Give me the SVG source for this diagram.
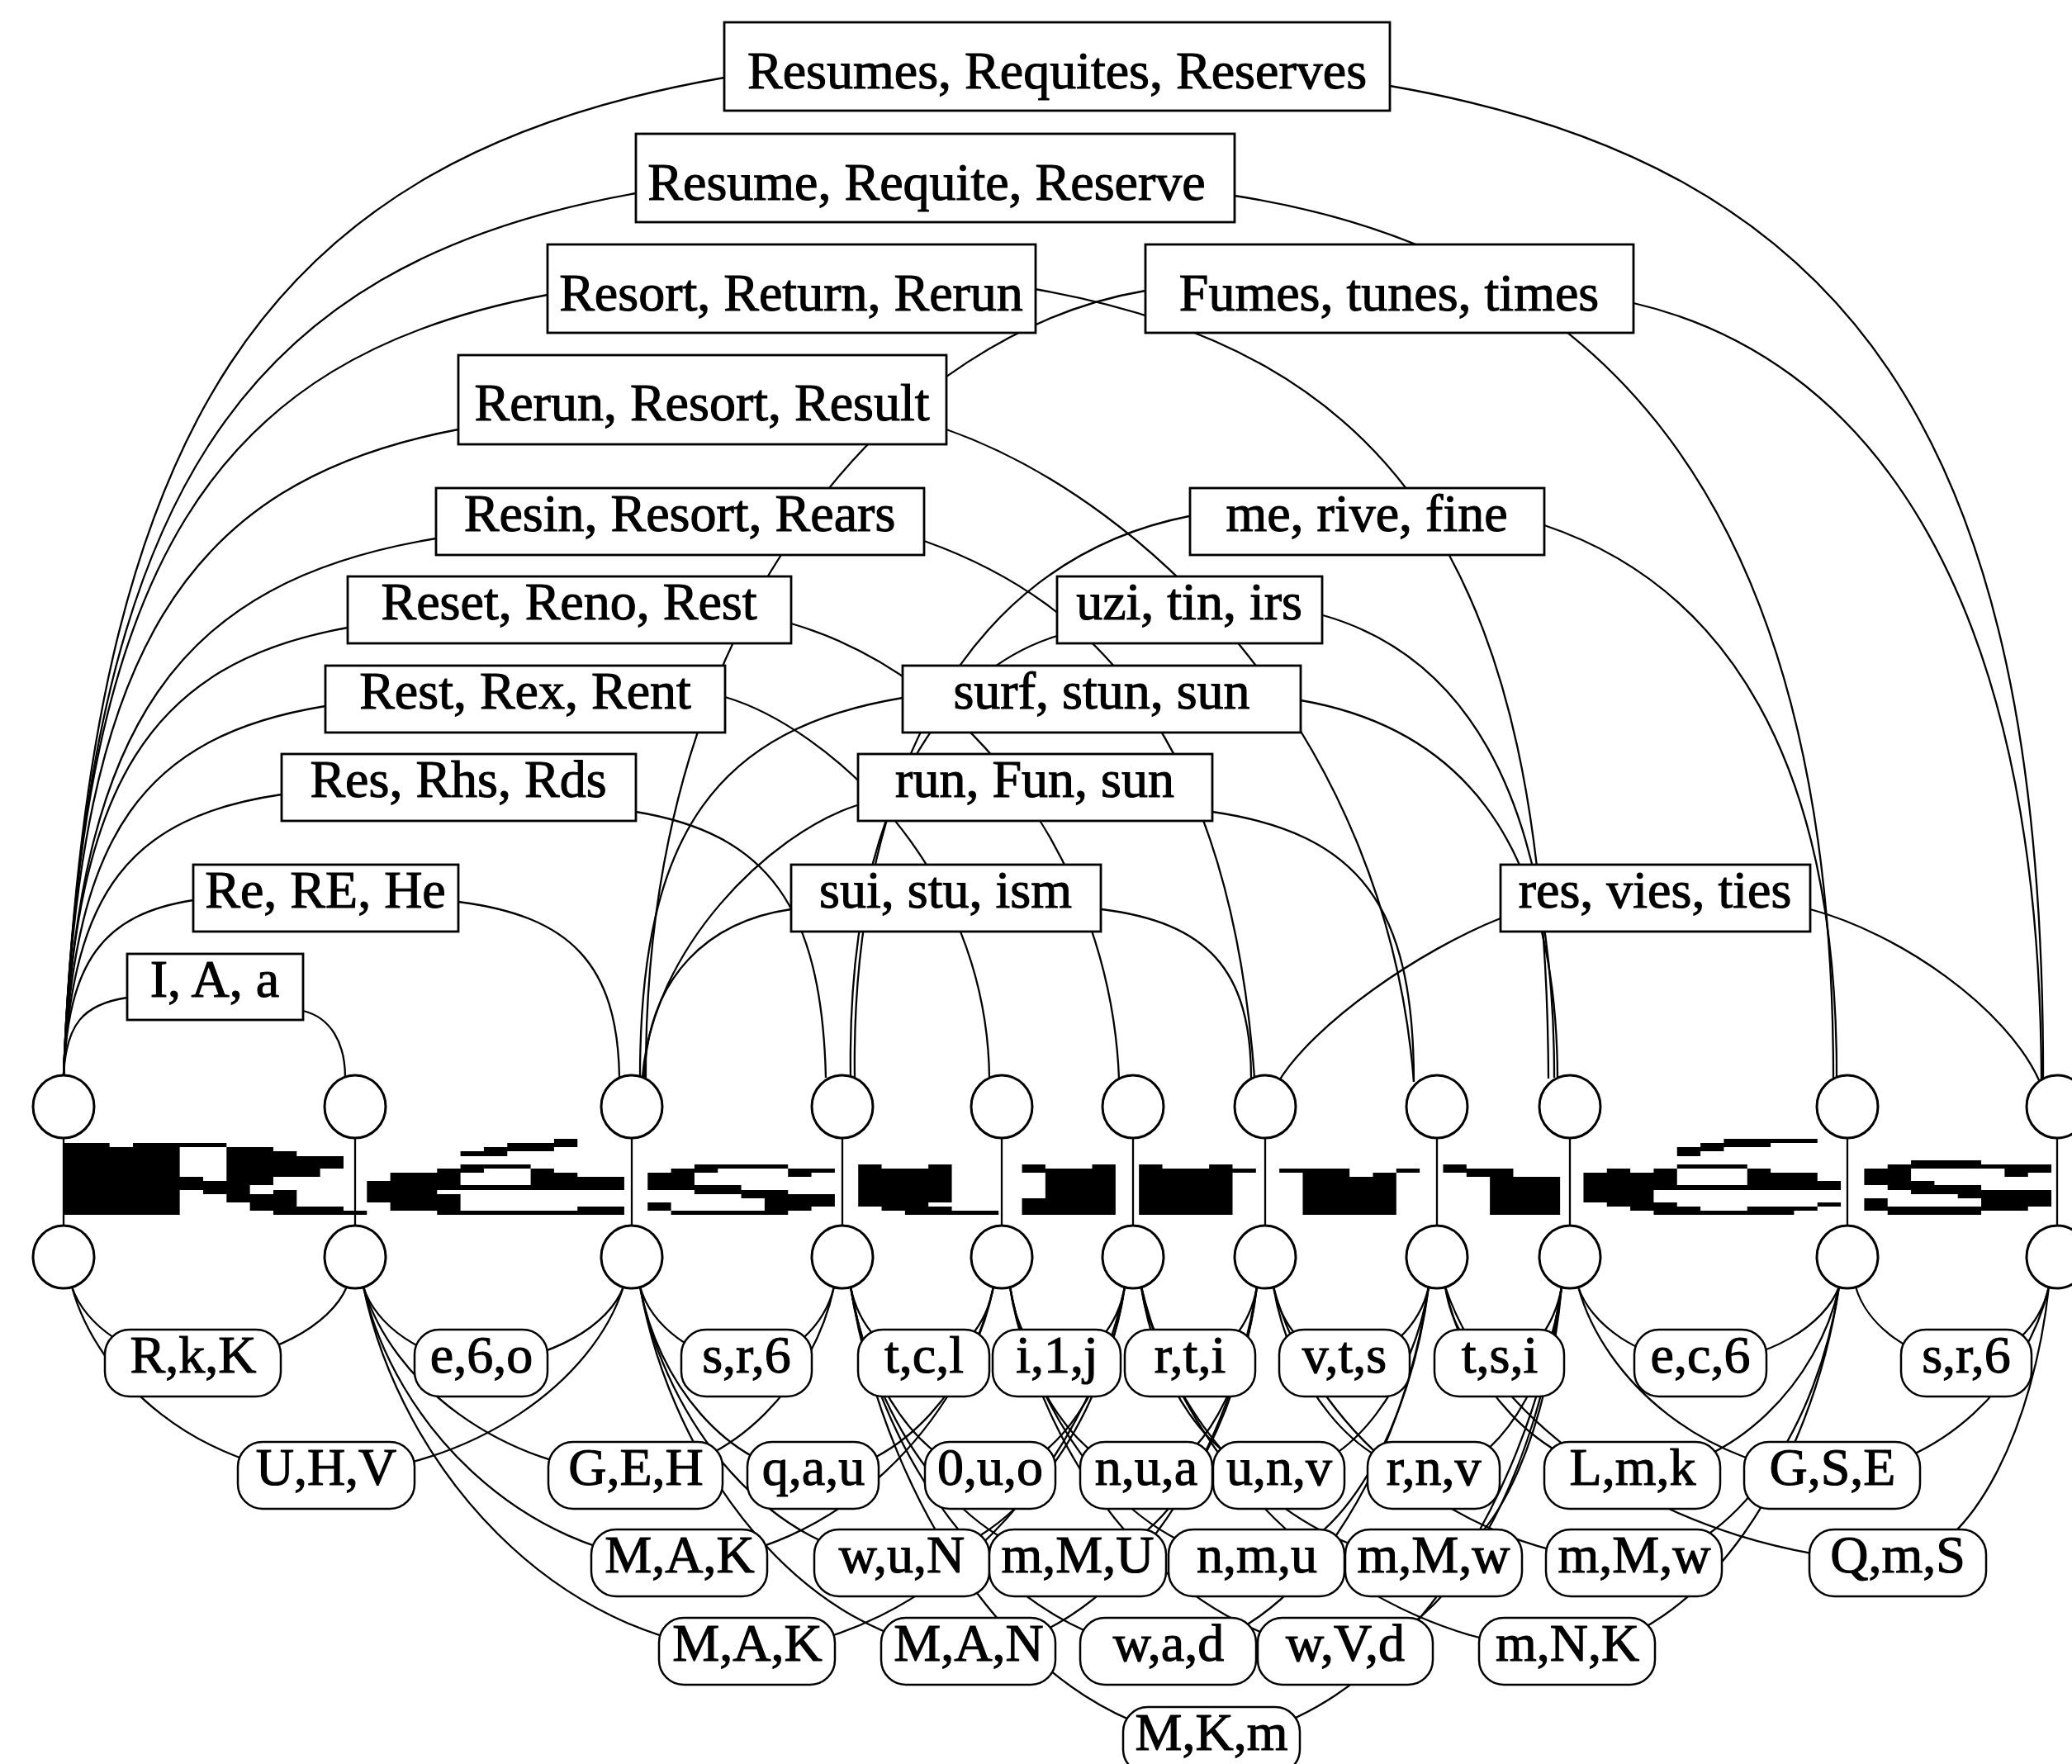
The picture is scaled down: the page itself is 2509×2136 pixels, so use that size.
<svg xmlns="http://www.w3.org/2000/svg" width="2509" height="2136" viewBox="0 0 2509 2136">
<style>
.e path{fill:none;stroke:#000;stroke-width:2.3}
.v{stroke:#000;stroke-width:2.3}
.tb{fill:#fff;stroke:#000;stroke-width:2.8}
.rb{fill:#fff;stroke:#000;stroke-width:2.5}
.c{fill:#fff;stroke:#000;stroke-width:3}
text{font-family:"Liberation Serif","Times New Roman",serif;font-size:64px;text-anchor:middle;fill:#000;stroke:#000;stroke-width:1.1px}
</style>
<rect width="2509" height="2136" fill="#fff"/>
<g id="connectors" class="e">
<path d="M877,94 C317,191 109,517 77,1302"/>
<path d="M770,234 C285,320 105,608 77,1302"/>
<path d="M663,357 C253,433 100,688 77,1302"/>
<path d="M555,520 C220,583 96,794 77,1302"/>
<path d="M528,652 C212,704 95,880 77,1302"/>
<path d="M421,760 C180,803 91,950 77,1302"/>
<path d="M394,855 C172,891 90,1012 77,1302"/>
<path d="M341,962 C156,989 88,1081 77,1302"/>
<path d="M234,1090 C124,1107 83,1165 77,1302"/>
<path d="M154,1208 C100,1216 80,1241 77,1302"/>
<path d="M367,1224 C400,1232 418,1262 418,1305"/>
<path d="M555,1092 C690,1109 748,1167 750,1305"/>
<path d="M770,983 C928,1009 995,1096 1000,1305"/>
<path d="M878,844 C1000,880 1195,1050 1198,1305"/>
<path d="M958,755 C1180,820 1345,1050 1355,1306"/>
<path d="M1119,655 C1330,730 1490,900 1519,1305"/>
<path d="M1146,520 C1400,610 1680,900 1712,1310"/>
<path d="M1253,350 C1686,426 1872,683 1875,1306"/>
<path d="M1495,237 C1900,300 2220,560 2220,1306"/>
<path d="M1683,104 C2238,200 2476,525 2474,1308"/>
<path d="M1387,352 C1100,400 780,720 782,1305"/>
<path d="M1978,367 C2250,430 2470,696 2472,1308"/>
<path d="M1440,625 C1160,680 1030,960 1035,1305"/>
<path d="M1280,770 C1150,810 1025,960 1030,1305"/>
<path d="M1602,745 C1760,790 1882,941 1882,1305"/>
<path d="M1093,845 C870,882 775,1006 775,1304"/>
<path d="M1575,848 C1760,880 1885,1008 1886,1305"/>
<path d="M1038,975 C930,1010 790,1150 778,1304"/>
<path d="M1468,983 C1646,1009 1712,1096 1712,1310"/>
<path d="M958,1101 C860,1115 785,1180 780,1304"/>
<path d="M1334,1101 C1461,1117 1515,1173 1515,1306"/>
<path d="M1817,1112 C1720,1150 1590,1240 1548,1310"/>
<path d="M2192,1101 C2300,1130 2430,1220 2470,1310"/>
<path d="M1870,636 C2090,710 2225,920 2224,1305"/>
<path d="M87,1558 C102,1604 160,1647 234,1650"/>
<path d="M420,1558 C401,1604 327,1647 234,1650"/>
<path d="M440,1558 C454,1604 511,1647 583,1650"/>
<path d="M755,1558 C738,1604 669,1647 583,1650"/>
<path d="M775,1558 C788,1604 840,1647 904,1650"/>
<path d="M1010,1558 C999,1604 957,1647 904,1650"/>
<path d="M1030,1558 C1039,1604 1074,1647 1119,1650"/>
<path d="M1203,1558 C1195,1604 1161,1647 1119,1650"/>
<path d="M1223,1558 C1229,1604 1251,1647 1280,1650"/>
<path d="M1362,1558 C1354,1604 1321,1647 1280,1650"/>
<path d="M1382,1558 C1388,1604 1412,1647 1441,1650"/>
<path d="M1522,1558 C1514,1604 1482,1647 1441,1650"/>
<path d="M1542,1558 C1551,1604 1585,1647 1628,1650"/>
<path d="M1730,1558 C1720,1604 1679,1647 1628,1650"/>
<path d="M1750,1558 C1757,1604 1783,1647 1816,1650"/>
<path d="M1891,1558 C1883,1604 1853,1647 1816,1650"/>
<path d="M1911,1558 C1926,1604 1985,1647 2059,1650"/>
<path d="M2227,1558 C2210,1604 2143,1647 2059,1650"/>
<path d="M2247,1558 C2260,1604 2314,1647 2381,1650"/>
<path d="M2481,1558 C2471,1604 2431,1647 2381,1650"/>
<path d="M87,1558 C118,1672 241,1779 395,1786"/>
<path d="M755,1558 C719,1672 575,1779 395,1786"/>
<path d="M440,1558 C473,1672 605,1779 770,1786"/>
<path d="M1010,1558 C986,1672 890,1779 770,1786"/>
<path d="M775,1558 C796,1672 880,1779 985,1786"/>
<path d="M1203,1558 C1181,1672 1094,1779 985,1786"/>
<path d="M1030,1558 C1047,1672 1115,1779 1199,1786"/>
<path d="M1362,1558 C1346,1672 1281,1779 1199,1786"/>
<path d="M1223,1558 C1240,1672 1306,1779 1388,1786"/>
<path d="M1522,1558 C1509,1672 1455,1779 1388,1786"/>
<path d="M1382,1558 C1399,1672 1465,1779 1549,1786"/>
<path d="M1730,1558 C1712,1672 1639,1779 1549,1786"/>
<path d="M1542,1558 C1561,1672 1639,1779 1736,1786"/>
<path d="M1891,1558 C1876,1672 1814,1779 1736,1786"/>
<path d="M1750,1558 C1773,1672 1863,1779 1977,1786"/>
<path d="M2227,1558 C2202,1672 2102,1779 1977,1786"/>
<path d="M1911,1558 C1942,1672 2065,1779 2219,1786"/>
<path d="M2481,1558 C2455,1672 2350,1779 2219,1786"/>
<path d="M440,1558 C478,1725 631,1882 823,1892"/>
<path d="M1203,1558 C1165,1725 1013,1882 823,1892"/>
<path d="M775,1558 C807,1725 934,1882 1092,1892"/>
<path d="M1362,1558 C1335,1725 1227,1882 1092,1892"/>
<path d="M1030,1558 C1058,1725 1168,1882 1305,1892"/>
<path d="M1522,1558 C1500,1725 1414,1882 1305,1892"/>
<path d="M1223,1558 C1253,1725 1372,1882 1522,1892"/>
<path d="M1730,1558 C1709,1725 1626,1882 1522,1892"/>
<path d="M1382,1558 C1417,1725 1559,1882 1736,1892"/>
<path d="M1891,1558 C1876,1725 1814,1882 1736,1892"/>
<path d="M1542,1558 C1586,1725 1760,1882 1979,1892"/>
<path d="M2227,1558 C2202,1725 2103,1882 1979,1892"/>
<path d="M1750,1558 C1805,1725 2024,1882 2298,1892"/>
<path d="M2481,1558 C2463,1725 2390,1882 2298,1892"/>
<path d="M440,1558 C486,1779 672,1987 905,2000"/>
<path d="M1362,1558 C1316,1779 1133,1987 905,2000"/>
<path d="M775,1558 C815,1779 974,1987 1173,2000"/>
<path d="M1522,1558 C1487,1779 1347,1987 1173,2000"/>
<path d="M1030,1558 C1068,1779 1222,1987 1415,2000"/>
<path d="M1730,1558 C1698,1779 1572,1987 1415,2000"/>
<path d="M1223,1558 C1264,1779 1426,1987 1629,2000"/>
<path d="M1891,1558 C1865,1779 1760,1987 1629,2000"/>
<path d="M1382,1558 C1434,1779 1640,1987 1898,2000"/>
<path d="M2227,1558 C2194,1779 2062,1987 1898,2000"/>
<path d="M1030,1558 C1074,1832 1249,2091 1467,2107"/>
<path d="M1891,1558 C1849,1832 1679,2091 1467,2107"/>
<path class="v" d="M77,1378V1484M430,1378V1484M765,1378V1484M1020,1378V1484M1213,1378V1484M1372,1378V1484M1532,1378V1484M1740,1378V1484M1901,1378V1484M2237,1378V1484M2491,1378V1484"/>
</g>
<g id="bitmap" transform="translate(76,0) scale(28.33,1)" fill="#000">
<rect x="21" y="1379" width="1" height="5"/><rect x="71" y="1379" width="4" height="5"/>
<rect x="0" y="1384" width="2" height="5"/><rect x="3" y="1384" width="4" height="5"/><rect x="19" y="1384" width="3" height="5"/><rect x="70" y="1384" width="3" height="5"/>
<rect x="0" y="1389" width="5" height="5"/><rect x="7" y="1389" width="2" height="5"/><rect x="18" y="1389" width="3" height="5"/><rect x="69" y="1389" width="2" height="5"/>
<rect x="0" y="1394" width="5" height="6"/><rect x="7" y="1394" width="3" height="6"/><rect x="17" y="1394" width="2" height="6"/><rect x="69" y="1394" width="1" height="6"/>
<rect x="0" y="1400" width="5" height="5"/><rect x="7" y="1400" width="5" height="5"/>
<rect x="0" y="1405" width="5" height="5"/><rect x="7" y="1405" width="5" height="5"/><rect x="79" y="1405" width="3" height="5"/>
<rect x="0" y="1410" width="5" height="5"/><rect x="7" y="1410" width="5" height="5"/><rect x="17" y="1410" width="3" height="5"/><rect x="27" y="1410" width="4" height="5"/><rect x="34" y="1410" width="1" height="5"/><rect x="37" y="1410" width="1" height="5"/><rect x="41" y="1410" width="1" height="5"/><rect x="44" y="1410" width="1" height="5"/><rect x="46" y="1410" width="1" height="5"/><rect x="49" y="1410" width="1" height="5"/><rect x="59" y="1410" width="1" height="5"/><rect x="69" y="1410" width="3" height="5"/><rect x="78" y="1410" width="7" height="5"/>
<rect x="0" y="1415" width="5" height="5"/><rect x="7" y="1415" width="4" height="5"/><rect x="16" y="1415" width="2" height="5"/><rect x="20" y="1415" width="1" height="5"/><rect x="26" y="1415" width="2" height="5"/><rect x="31" y="1415" width="2" height="5"/><rect x="34" y="1415" width="4" height="5"/><rect x="41" y="1415" width="4" height="5"/><rect x="46" y="1415" width="5" height="5"/><rect x="52" y="1415" width="3" height="5"/><rect x="57" y="1415" width="1" height="5"/><rect x="59" y="1415" width="3" height="5"/><rect x="66" y="1415" width="1" height="5"/><rect x="68" y="1415" width="1" height="5"/><rect x="72" y="1415" width="1" height="5"/><rect x="77" y="1415" width="2" height="5"/><rect x="83" y="1415" width="2" height="5"/>
<rect x="0" y="1420" width="5" height="5"/><rect x="7" y="1420" width="4" height="5"/><rect x="14" y="1420" width="3" height="5"/><rect x="20" y="1420" width="2" height="5"/><rect x="25" y="1420" width="2" height="5"/><rect x="31" y="1420" width="1" height="5"/><rect x="34" y="1420" width="4" height="5"/><rect x="42" y="1420" width="3" height="5"/><rect x="46" y="1420" width="4" height="5"/><rect x="53" y="1420" width="2" height="5"/><rect x="56" y="1420" width="1" height="5"/><rect x="60" y="1420" width="2" height="5"/><rect x="65" y="1420" width="4" height="5"/><rect x="72" y="1420" width="3" height="5"/><rect x="77" y="1420" width="2" height="5"/><rect x="83" y="1420" width="1" height="5"/>
<rect x="0" y="1425" width="6" height="5"/><rect x="7" y="1425" width="2" height="5"/><rect x="14" y="1425" width="3" height="5"/><rect x="20" y="1425" width="4" height="5"/><rect x="25" y="1425" width="2" height="5"/><rect x="34" y="1425" width="4" height="5"/><rect x="42" y="1425" width="3" height="5"/><rect x="46" y="1425" width="4" height="5"/><rect x="53" y="1425" width="4" height="5"/><rect x="61" y="1425" width="3" height="5"/><rect x="65" y="1425" width="4" height="5"/><rect x="72" y="1425" width="3" height="5"/><rect x="77" y="1425" width="2" height="5"/>
<rect x="0" y="1430" width="9" height="5"/><rect x="13" y="1430" width="4" height="5"/><rect x="20" y="1430" width="4" height="5"/><rect x="25" y="1430" width="2" height="5"/><rect x="34" y="1430" width="4" height="5"/><rect x="42" y="1430" width="3" height="5"/><rect x="46" y="1430" width="4" height="5"/><rect x="53" y="1430" width="4" height="5"/><rect x="61" y="1430" width="3" height="5"/><rect x="65" y="1430" width="4" height="5"/><rect x="72" y="1430" width="4" height="5"/><rect x="77" y="1430" width="3" height="5"/>
<rect x="0" y="1435" width="8" height="6"/><rect x="13" y="1435" width="11" height="6"/><rect x="25" y="1435" width="4" height="6"/><rect x="34" y="1435" width="4" height="6"/><rect x="42" y="1435" width="3" height="6"/><rect x="46" y="1435" width="4" height="6"/><rect x="53" y="1435" width="4" height="6"/><rect x="61" y="1435" width="3" height="6"/><rect x="65" y="1435" width="11" height="6"/><rect x="78" y="1435" width="4" height="6"/>
<rect x="0" y="1441" width="5" height="5"/><rect x="6" y="1441" width="2" height="5"/><rect x="9" y="1441" width="1" height="5"/><rect x="13" y="1441" width="3" height="5"/><rect x="27" y="1441" width="4" height="5"/><rect x="34" y="1441" width="4" height="5"/><rect x="42" y="1441" width="3" height="5"/><rect x="46" y="1441" width="4" height="5"/><rect x="53" y="1441" width="4" height="5"/><rect x="61" y="1441" width="3" height="5"/><rect x="65" y="1441" width="3" height="5"/><rect x="79" y="1441" width="6" height="5"/>
<rect x="0" y="1446" width="5" height="5"/><rect x="7" y="1446" width="3" height="5"/><rect x="13" y="1446" width="4" height="5"/><rect x="29" y="1446" width="4" height="5"/><rect x="34" y="1446" width="4" height="5"/><rect x="42" y="1446" width="3" height="5"/><rect x="46" y="1446" width="4" height="5"/><rect x="53" y="1446" width="4" height="5"/><rect x="61" y="1446" width="3" height="5"/><rect x="65" y="1446" width="3" height="5"/><rect x="81" y="1446" width="4" height="5"/>
<rect x="0" y="1451" width="5" height="5"/><rect x="7" y="1451" width="3" height="5"/><rect x="13" y="1451" width="4" height="5"/><rect x="30" y="1451" width="3" height="5"/><rect x="34" y="1451" width="4" height="5"/><rect x="41" y="1451" width="4" height="5"/><rect x="46" y="1451" width="4" height="5"/><rect x="53" y="1451" width="4" height="5"/><rect x="61" y="1451" width="3" height="5"/><rect x="65" y="1451" width="3" height="5"/><rect x="77" y="1451" width="1" height="5"/><rect x="82" y="1451" width="3" height="5"/>
<rect x="0" y="1456" width="5" height="5"/><rect x="8" y="1456" width="2" height="5"/><rect x="14" y="1456" width="3" height="5"/><rect x="25" y="1456" width="1" height="5"/><rect x="30" y="1456" width="3" height="5"/><rect x="34" y="1456" width="3" height="5"/><rect x="41" y="1456" width="4" height="5"/><rect x="46" y="1456" width="4" height="5"/><rect x="53" y="1456" width="4" height="5"/><rect x="61" y="1456" width="3" height="5"/><rect x="66" y="1456" width="3" height="5"/><rect x="75" y="1456" width="1" height="5"/><rect x="77" y="1456" width="1" height="5"/><rect x="82" y="1456" width="3" height="5"/>
<rect x="0" y="1461" width="5" height="5"/><rect x="8" y="1461" width="4" height="5"/><rect x="14" y="1461" width="3" height="5"/><rect x="22" y="1461" width="2" height="5"/><rect x="25" y="1461" width="1" height="5"/><rect x="30" y="1461" width="2" height="5"/><rect x="35" y="1461" width="3" height="5"/><rect x="41" y="1461" width="4" height="5"/><rect x="46" y="1461" width="4" height="5"/><rect x="53" y="1461" width="4" height="5"/><rect x="61" y="1461" width="3" height="5"/><rect x="67" y="1461" width="3" height="5"/><rect x="72" y="1461" width="3" height="5"/><rect x="77" y="1461" width="7" height="5"/>
<rect x="0" y="1466" width="5" height="5"/><rect x="9" y="1466" width="4" height="5"/><rect x="16" y="1466" width="8" height="5"/><rect x="26" y="1466" width="5" height="5"/><rect x="36" y="1466" width="4" height="5"/><rect x="41" y="1466" width="4" height="5"/><rect x="46" y="1466" width="4" height="5"/><rect x="53" y="1466" width="4" height="5"/><rect x="61" y="1466" width="3" height="5"/><rect x="68" y="1466" width="6" height="5"/><rect x="78" y="1466" width="4" height="5"/>
</g>
<g id="top-nodes">
<g id="t1"><ellipse class="c" cx="77" cy="1340" rx="37" ry="38"/></g>
<g id="t2"><ellipse class="c" cx="430" cy="1340" rx="37" ry="38"/></g>
<g id="t3"><ellipse class="c" cx="765" cy="1340" rx="37" ry="38"/></g>
<g id="t4"><ellipse class="c" cx="1020" cy="1340" rx="37" ry="38"/></g>
<g id="t5"><ellipse class="c" cx="1213" cy="1340" rx="37" ry="38"/></g>
<g id="t6"><ellipse class="c" cx="1372" cy="1340" rx="37" ry="38"/></g>
<g id="t7"><ellipse class="c" cx="1532" cy="1340" rx="37" ry="38"/></g>
<g id="t8"><ellipse class="c" cx="1740" cy="1340" rx="37" ry="38"/></g>
<g id="t9"><ellipse class="c" cx="1901" cy="1340" rx="37" ry="38"/></g>
<g id="t10"><ellipse class="c" cx="2237" cy="1340" rx="37" ry="38"/></g>
<g id="t11"><ellipse class="c" cx="2491" cy="1340" rx="37" ry="38"/></g>
</g>
<g id="bottom-nodes">
<g id="b1"><ellipse class="c" cx="77" cy="1522" rx="37" ry="38"/></g>
<g id="b2"><ellipse class="c" cx="430" cy="1522" rx="37" ry="38"/></g>
<g id="b3"><ellipse class="c" cx="765" cy="1522" rx="37" ry="38"/></g>
<g id="b4"><ellipse class="c" cx="1020" cy="1522" rx="37" ry="38"/></g>
<g id="b5"><ellipse class="c" cx="1213" cy="1522" rx="37" ry="38"/></g>
<g id="b6"><ellipse class="c" cx="1372" cy="1522" rx="37" ry="38"/></g>
<g id="b7"><ellipse class="c" cx="1532" cy="1522" rx="37" ry="38"/></g>
<g id="b8"><ellipse class="c" cx="1740" cy="1522" rx="37" ry="38"/></g>
<g id="b9"><ellipse class="c" cx="1901" cy="1522" rx="37" ry="38"/></g>
<g id="b10"><ellipse class="c" cx="2237" cy="1522" rx="37" ry="38"/></g>
<g id="b11"><ellipse class="c" cx="2491" cy="1522" rx="37" ry="38"/></g>
</g>
<g id="word-boxes">
<g id="w-resumes"><rect class="tb" x="877" y="27" width="806" height="107"/><text x="1280" y="107">Resumes, Requites, Reserves</text></g>
<g id="w-resume"><rect class="tb" x="770" y="162" width="725" height="107"/><text x="1122" y="242">Resume, Requite, Reserve</text></g>
<g id="w-resort"><rect class="tb" x="663" y="296" width="591" height="107"/><text x="958" y="376">Resort, Return, Rerun</text></g>
<g id="w-fumes"><rect class="tb" x="1387" y="296" width="591" height="107"/><text x="1682" y="376">Fumes, tunes, times</text></g>
<g id="w-rerun"><rect class="tb" x="555" y="430" width="591" height="108"/><text x="850" y="509">Rerun, Resort, Result</text></g>
<g id="w-resin"><rect class="tb" x="528" y="591" width="591" height="81"/><text x="823" y="643">Resin, Resort, Rears</text></g>
<g id="w-me"><rect class="tb" x="1441" y="591" width="429" height="81"/><text x="1655" y="643">me, rive, fine</text></g>
<g id="w-reset"><rect class="tb" x="421" y="698" width="537" height="81"/><text x="689" y="750">Reset, Reno, Rest</text></g>
<g id="w-uzi"><rect class="tb" x="1280" y="698" width="321" height="81"/><text x="1440" y="750">uzi, tin, irs</text></g>
<g id="w-rest"><rect class="tb" x="394" y="806" width="484" height="81"/><text x="636" y="858">Rest, Rex, Rent</text></g>
<g id="w-surf"><rect class="tb" x="1093" y="806" width="482" height="81"/><text x="1334" y="858">surf, stun, sun</text></g>
<g id="w-res"><rect class="tb" x="341" y="913" width="429" height="81"/><text x="555" y="965">Res, Rhs, Rds</text></g>
<g id="w-run"><rect class="tb" x="1039" y="913" width="429" height="81"/><text x="1253" y="965">run, Fun, sun</text></g>
<g id="w-re"><rect class="tb" x="234" y="1047" width="321" height="81"/><text x="394" y="1099">Re, RE, He</text></g>
<g id="w-sui"><rect class="tb" x="958" y="1047" width="375" height="81"/><text x="1145" y="1099">sui, stu, ism</text></g>
<g id="w-resv"><rect class="tb" x="1817" y="1047" width="375" height="81"/><text x="2004" y="1099">res, vies, ties</text></g>
<g id="w-ia"><rect class="tb" x="154" y="1155" width="213" height="80"/><text x="260" y="1207">I, A, a</text></g>
</g>
<g id="char-boxes">
<g id="c-rkk"><rect class="rb" x="127" y="1610" width="213" height="81" rx="30"/><text x="234" y="1662">R,k,K</text></g>
<g id="c-e6o"><rect class="rb" x="502" y="1610" width="161" height="81" rx="30"/><text x="583" y="1662">e,6,o</text></g>
<g id="c-sr6a"><rect class="rb" x="825" y="1610" width="158" height="81" rx="30"/><text x="904" y="1662">s,r,6</text></g>
<g id="c-tcl"><rect class="rb" x="1039" y="1610" width="159" height="81" rx="30"/><text x="1119" y="1662">t,c,l</text></g>
<g id="c-i1j"><rect class="rb" x="1202" y="1610" width="155" height="81" rx="30"/><text x="1280" y="1662">i,1,j</text></g>
<g id="c-rti"><rect class="rb" x="1362" y="1610" width="158" height="81" rx="30"/><text x="1441" y="1662">r,t,i</text></g>
<g id="c-vts"><rect class="rb" x="1549" y="1610" width="158" height="81" rx="30"/><text x="1628" y="1662">v,t,s</text></g>
<g id="c-tsi"><rect class="rb" x="1737" y="1610" width="157" height="81" rx="30"/><text x="1816" y="1662">t,s,i</text></g>
<g id="c-ec6"><rect class="rb" x="1979" y="1610" width="160" height="81" rx="30"/><text x="2059" y="1662">e,c,6</text></g>
<g id="c-sr6b"><rect class="rb" x="2302" y="1610" width="158" height="81" rx="30"/><text x="2381" y="1662">s,r,6</text></g>
<g id="c-uhv"><rect class="rb" x="288" y="1746" width="214" height="81" rx="30"/><text x="395" y="1798">U,H,V</text></g>
<g id="c-geh"><rect class="rb" x="664" y="1746" width="211" height="81" rx="30"/><text x="770" y="1798">G,E,H</text></g>
<g id="c-qau"><rect class="rb" x="905" y="1746" width="159" height="81" rx="30"/><text x="985" y="1798">q,a,u</text></g>
<g id="c-0uo"><rect class="rb" x="1120" y="1746" width="158" height="81" rx="30"/><text x="1199" y="1798">0,u,o</text></g>
<g id="c-nua"><rect class="rb" x="1308" y="1746" width="160" height="81" rx="30"/><text x="1388" y="1798">n,u,a</text></g>
<g id="c-unv"><rect class="rb" x="1469" y="1746" width="159" height="81" rx="30"/><text x="1549" y="1798">u,n,v</text></g>
<g id="c-rnv"><rect class="rb" x="1656" y="1746" width="160" height="81" rx="30"/><text x="1736" y="1798">r,n,v</text></g>
<g id="c-lmk"><rect class="rb" x="1870" y="1746" width="213" height="81" rx="30"/><text x="1977" y="1798">L,m,k</text></g>
<g id="c-gse"><rect class="rb" x="2112" y="1746" width="213" height="81" rx="30"/><text x="2219" y="1798">G,S,E</text></g>
<g id="c-mak3"><rect class="rb" x="716" y="1852" width="213" height="81" rx="30"/><text x="823" y="1904">M,A,K</text></g>
<g id="c-wun"><rect class="rb" x="986" y="1852" width="212" height="81" rx="30"/><text x="1092" y="1904">w,u,N</text></g>
<g id="c-mmu"><rect class="rb" x="1198" y="1852" width="214" height="81" rx="30"/><text x="1305" y="1904">m,M,U</text></g>
<g id="c-nmu"><rect class="rb" x="1415" y="1852" width="213" height="81" rx="30"/><text x="1522" y="1904">n,m,u</text></g>
<g id="c-mmw1"><rect class="rb" x="1629" y="1852" width="214" height="81" rx="30"/><text x="1736" y="1904">m,M,w</text></g>
<g id="c-mmw2"><rect class="rb" x="1872" y="1852" width="213" height="81" rx="30"/><text x="1979" y="1904">m,M,w</text></g>
<g id="c-qms"><rect class="rb" x="2191" y="1852" width="214" height="81" rx="30"/><text x="2298" y="1904">Q,m,S</text></g>
<g id="c-mak4"><rect class="rb" x="798" y="1959" width="213" height="81" rx="30"/><text x="905" y="2011">M,A,K</text></g>
<g id="c-man"><rect class="rb" x="1067" y="1959" width="211" height="81" rx="30"/><text x="1173" y="2011">M,A,N</text></g>
<g id="c-wad"><rect class="rb" x="1308" y="1959" width="213" height="81" rx="30"/><text x="1415" y="2011">w,a,d</text></g>
<g id="c-wvd"><rect class="rb" x="1523" y="1959" width="212" height="81" rx="30"/><text x="1629" y="2011">w,V,d</text></g>
<g id="c-mnk"><rect class="rb" x="1791" y="1959" width="213" height="81" rx="30"/><text x="1898" y="2011">m,N,K</text></g>
<g id="c-mkm"><rect class="rb" x="1360" y="2067" width="214" height="81" rx="30"/><text x="1467" y="2119">M,K,m</text></g>
</g>
</svg>
